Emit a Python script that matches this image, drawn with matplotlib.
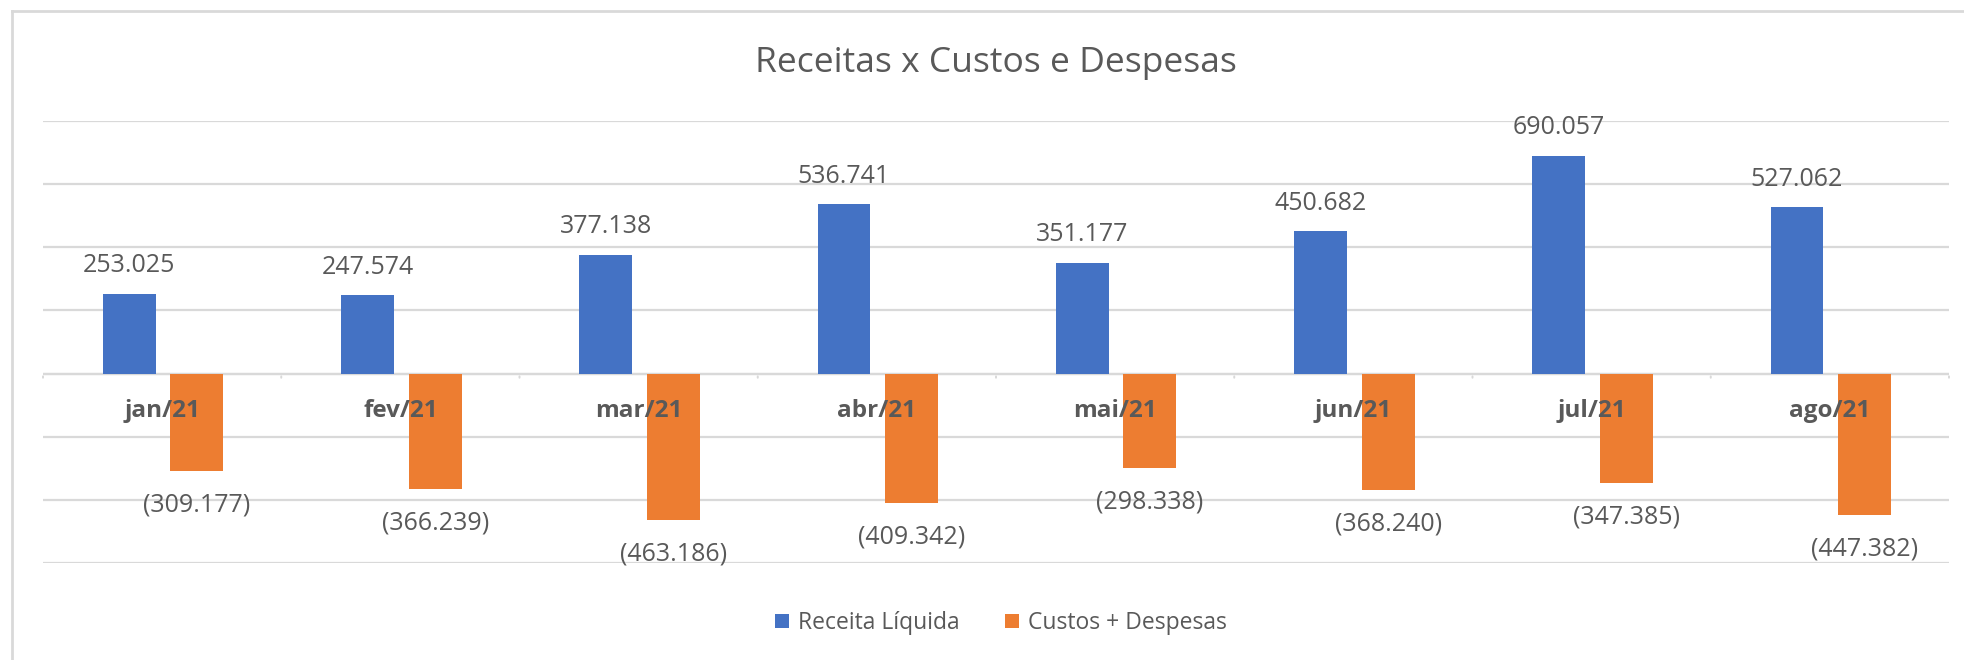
import numpy as np
import matplotlib
matplotlib.use('Agg')
import matplotlib.pyplot as plt
from matplotlib.lines import Line2D
from matplotlib.patches import Patch

plt.rcParams['font.family'] = ['Open Sans', 'DejaVu Sans']

meses = ['jan/21', 'fev/21', 'mar/21', 'abr/21', 'mai/21', 'jun/21', 'jul/21', 'ago/21']
receita = [253025, 247574, 377138, 536741, 351177, 450682, 690057, 527062]
custos = [-309177, -366239, -463186, -409342, -298338, -368240, -347385, -447382]

azul = '#4472C4'
laranja = '#ED7D31'
cinza = '#595959'
grade = '#D9D9D9'


def fmt(v):
    s = '{:,.0f}'.format(abs(v)).replace(',', '.')
    return '(' + s + ')' if v < 0 else s


fig = plt.figure(figsize=(19.64, 6.6), dpi=100)
ax = fig.add_axes([43 / 1964, 97 / 660, 1906 / 1964, 442 / 660])

x = np.arange(len(meses))
w = 0.222
b1 = ax.bar(x - 0.138, receita, w, color=azul, zorder=3)
b2 = ax.bar(x + 0.146, custos, w, color=laranja, zorder=3)

ax.set_xlim(-0.5, len(meses) - 0.5)
ax.set_ylim(-600000, 800000)
ax.set_yticks(np.arange(-600000, 800001, 200000))
ax.yaxis.grid(True, color=grade, linewidth=1.6, zorder=0)
ax.tick_params(axis='y', length=0, labelleft=False)
for s in ax.spines.values():
    s.set_visible(False)
ax.axhline(0, color=grade, linewidth=1.6, zorder=2)

# small ticks at category boundaries on the zero line
ax.set_xticks([])
for b in np.arange(-0.5, len(meses), 1.0):
    ax.annotate('', xy=(b, 0), xytext=(0, -5), textcoords='offset points',
                arrowprops=dict(arrowstyle='-', color=grade, lw=1.4))

for rect, v in zip(b1, receita):
    ax.annotate(fmt(v), (rect.get_x() + rect.get_width() / 2, v),
                xytext=(0, 20), textcoords='offset points',
                ha='center', va='center', fontsize=18, color=cinza, zorder=5)
for rect, v in zip(b2, custos):
    ax.annotate(fmt(v), (rect.get_x() + rect.get_width() / 2, v),
                xytext=(0, -24.5), textcoords='offset points',
                ha='center', va='center', fontsize=18, color=cinza, zorder=5)

for i, m in enumerate(meses):
    ax.annotate(m, (i, 0), xytext=(0, -27), textcoords='offset points',
                ha='center', va='center', fontsize=17.5, fontweight='bold',
                color=cinza, zorder=6)

fig.text(996 / 1964, 1 - 63 / 660, 'Receitas x Custos e Despesas',
         ha='center', va='center', fontsize=25.5, color=cinza)

handles = [Patch(facecolor=azul), Patch(facecolor=laranja)]
fig.legend(handles, ['Receita Líquida', 'Custos + Despesas'], ncol=2,
           loc='center', bbox_to_anchor=(1001 / 1964, 1 - 623 / 660),
           frameon=False, fontsize=16.5, labelcolor=cinza,
           handlelength=0.6, handleheight=0.6, handletextpad=0.4,
           columnspacing=2.0)

# chart border (left and top edges visible)
fig.add_artist(Line2D([12 / 1964, 12 / 1964], [0, 1 - 11 / 660],
                      transform=fig.transFigure, color=grade, lw=2))
fig.add_artist(Line2D([12 / 1964, 1], [1 - 11 / 660, 1 - 11 / 660],
                      transform=fig.transFigure, color=grade, lw=2))

fig.savefig('out.png', dpi=100, facecolor='white')
